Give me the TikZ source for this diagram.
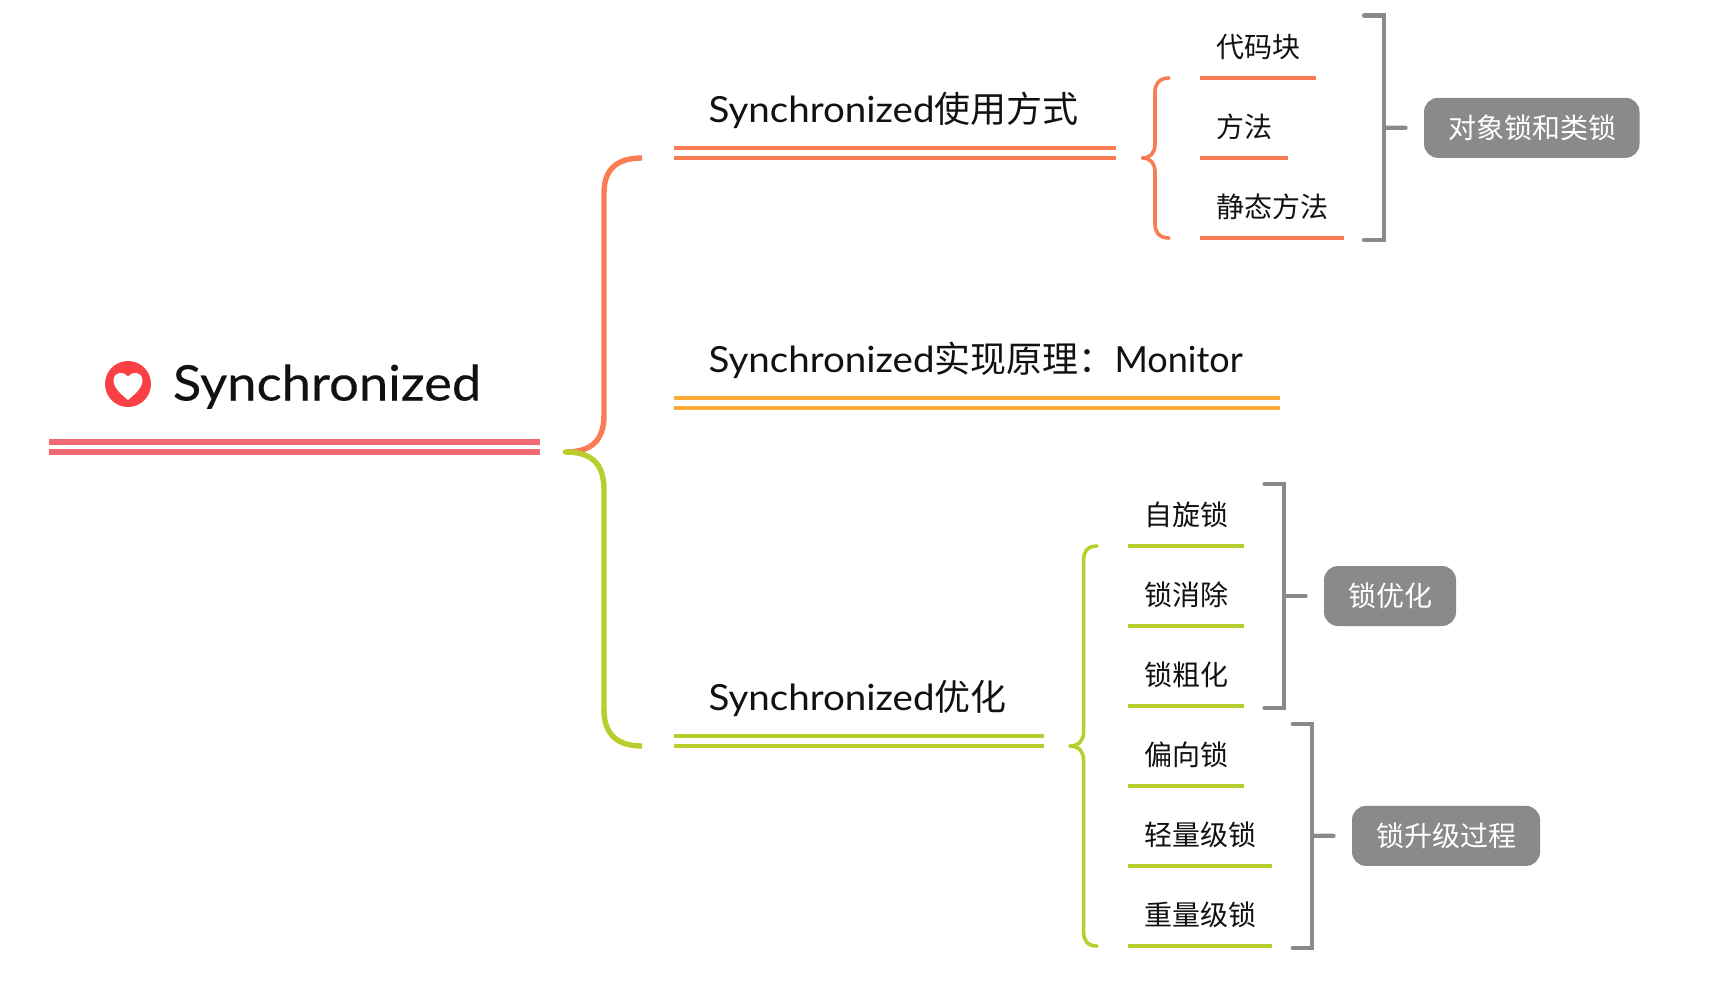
\documentclass[tikz,border=0pt]{standalone}
\usepackage{fontspec}
\usetikzlibrary{calc}
\setmainfont{Lato}
\newfontfamily\latinw[FakeStretch=1.07]{Lato}
\newfontfamily\rootf[FakeStretch=1.073,FakeBold=0.25]{Lato}
\newfontfamily\cjk{Noto Sans CJK SC}
\definecolor{rootc}{HTML}{F06A73}
\definecolor{orangec}{HTML}{FA7C55}
\definecolor{amberc}{HTML}{FDAB38}
\definecolor{greenc}{HTML}{B9CE2D}
\definecolor{grayc}{HTML}{8A8A8A}
\definecolor{heartc}{HTML}{F94144}
\definecolor{inkc}{HTML}{111111}
\tikzset{
  x=0.5pt,y=-0.5pt,
  leafnode/.style={inner xsep=8pt,inner ysep=0pt,anchor=south west,text=inkc,align=left,font=\fontsize{14}{16}\selectfont\cjk,text height=10.5pt,text depth=10.2pt},
  topicnode/.style={inner xsep=17.1pt,inner ysep=0pt,anchor=south west,text=inkc,align=left,font=\fontsize{18}{20}\selectfont,text height=13pt,text depth=17.6pt},
  tagnode/.style={fill=grayc,rounded corners=7pt,text=white,minimum height=30pt,inner sep=0pt,font=\fontsize{14}{16}\selectfont\cjk},
  under/.style={line width=2pt,line cap=butt},
  bracket/.style={draw=grayc,line width=2.1pt,line cap=round,line join=miter},
  stub/.style={draw=grayc,line width=2.1pt,line cap=round,shorten >=9pt},
  bigbrace/.style={line width=2.7pt,line cap=butt},
  smallbrace/.style={line width=1.8pt,line cap=round}
}
\newcommand{\leafn}[6]{% name,x0,x1,y,colour,text
  \node[leafnode,text width={(#3-#2)*0.5pt-16pt}] (#1) at (#2,#4) {#6};
  \draw[under,draw=#5] (#1.south west) -- (#1.south east);
}
\newcommand{\topicn}[6]{%
  \node[topicnode,text width={(#3-#2)*0.5pt-34.2pt}] (#1) at (#2,#4) {#6};
  \draw[under,draw=#5] (#1.south west) -- (#1.south east);
  \draw[under,draw=#5] ([yshift=5pt]#1.south west) -- ([yshift=5pt]#1.south east);
}
\begin{document}
\begin{tikzpicture}
\useasboundingbox (0,0) rectangle (1728,986);
% root
\node[inner sep=0pt,anchor=base west,text=inkc,font=\fontsize{24.5}{26}\selectfont\rootf] (root) at (172.5,400.5) {Synchronized};
\draw[line width=3pt,draw=rootc] (49,452) -- (540,452);
\draw[line width=3pt,draw=rootc] (49,442) -- (540,442);
\node[circle,fill=heartc,minimum size=23pt,inner sep=0pt] (heart) at (128,384) {};
\fill[white] (128,376.5) .. controls (124,371) and (114,371) .. (113.5,380.5)
  .. controls (113.5,388) and (122,395) .. (128,400)
  .. controls (134,395) and (142.5,388) .. (142.5,380.5)
  .. controls (142,371) and (132,371) .. (128,376.5) -- cycle;
% topics
\topicn{t1}{674}{1115.5}{158}{orangec}{{\latinw Synchronized}{\cjk 使用方式}}
\topicn{t2}{674}{1279.5}{408}{amberc}{{\latinw Synchronized}{\cjk 实现原理：}Monitor}
\topicn{t3}{674}{1043.5}{746}{greenc}{{\latinw Synchronized}{\cjk 优化}}
% main brace
\coordinate (tip) at (565.5,452);
\draw[bigbrace,draw=orangec] (tip) .. controls (592,452) and (604,440) .. (604,415) -- (604,193) .. controls (604,170) and (616,158) .. ($(t1.south west)+(-16pt,0pt)$);
\draw[bigbrace,draw=greenc,line cap=round] (tip) .. controls (592,452) and (604,464) .. (604,490) -- (604,712);
\draw[bigbrace,draw=greenc] (604,710) .. controls (604,733) and (616,746) .. ($(t3.south west)+(-16pt,0pt)$);
% orange leaves
\leafn{a1}{1200}{1315}{78}{orangec}{代码块}
\leafn{a2}{1200}{1287.5}{158}{orangec}{方法}
\leafn{a3}{1200}{1343}{238}{orangec}{静态方法}
\coordinate (abrace) at (1142.5,158);
\draw[smallbrace,draw=orangec] (abrace) .. controls (1151,158) and (1155,152) .. (1155,144) -- (1155,92) .. controls (1155,84) and (1159,78) .. (1169,78);
\draw[smallbrace,draw=orangec] (abrace) .. controls (1151,158) and (1155,164) .. (1155,172) -- (1155,224) .. controls (1155,232) and (1159,238) .. (1169,238);
\node[tagnode,minimum width=107.75pt] (tag1) at (1531.75,127.85) {\hspace{1pt}对象锁和类锁};
\draw[bracket] (1364,15.5) -- (1384,15.5) -- (1384,240) -- (1364,240);
\coordinate (br1) at (1384,127.7);
\draw[stub] (br1) -- (tag1.west);
% green leaves
\leafn{b1}{1128}{1243.5}{546}{greenc}{自旋锁}
\leafn{b2}{1128}{1243.5}{626}{greenc}{锁消除}
\leafn{b3}{1128}{1243.5}{706}{greenc}{锁粗化}
\leafn{b4}{1128}{1243.5}{786}{greenc}{偏向锁}
\leafn{b5}{1128}{1271.5}{866}{greenc}{轻量级锁}
\leafn{b6}{1128}{1271.5}{946}{greenc}{重量级锁}
\coordinate (bbrace) at (1070,746);
\draw[smallbrace,draw=greenc] (bbrace) .. controls (1079,746) and (1083.6,740) .. (1083.6,732) -- (1083.6,560) .. controls (1083.6,552) and (1087,546) .. (1097,546);
\draw[smallbrace,draw=greenc] (bbrace) .. controls (1079,746) and (1083.6,752) .. (1083.6,760) -- (1083.6,932) .. controls (1083.6,940) and (1087,946) .. (1097,946);
\node[tagnode,minimum width=66pt] (tag2) at (1390,596) {\hspace{0.5pt}锁优化};
\draw[bracket] (1264.5,483.7) -- (1284,483.7) -- (1284,708) -- (1264.5,708);
\coordinate (br2) at (1284,596);
\draw[stub] (br2) -- (tag2.west);
\node[tagnode,minimum width=94pt] (tag3) at (1446,835.9) {\hspace{0.5pt}锁升级过程};
\draw[bracket] (1292.7,723.7) -- (1312,723.7) -- (1312,948) -- (1292.7,948);
\coordinate (br3) at (1312,835.7);
\draw[stub] (br3) -- (tag3.west);
\end{tikzpicture}
\end{document}
